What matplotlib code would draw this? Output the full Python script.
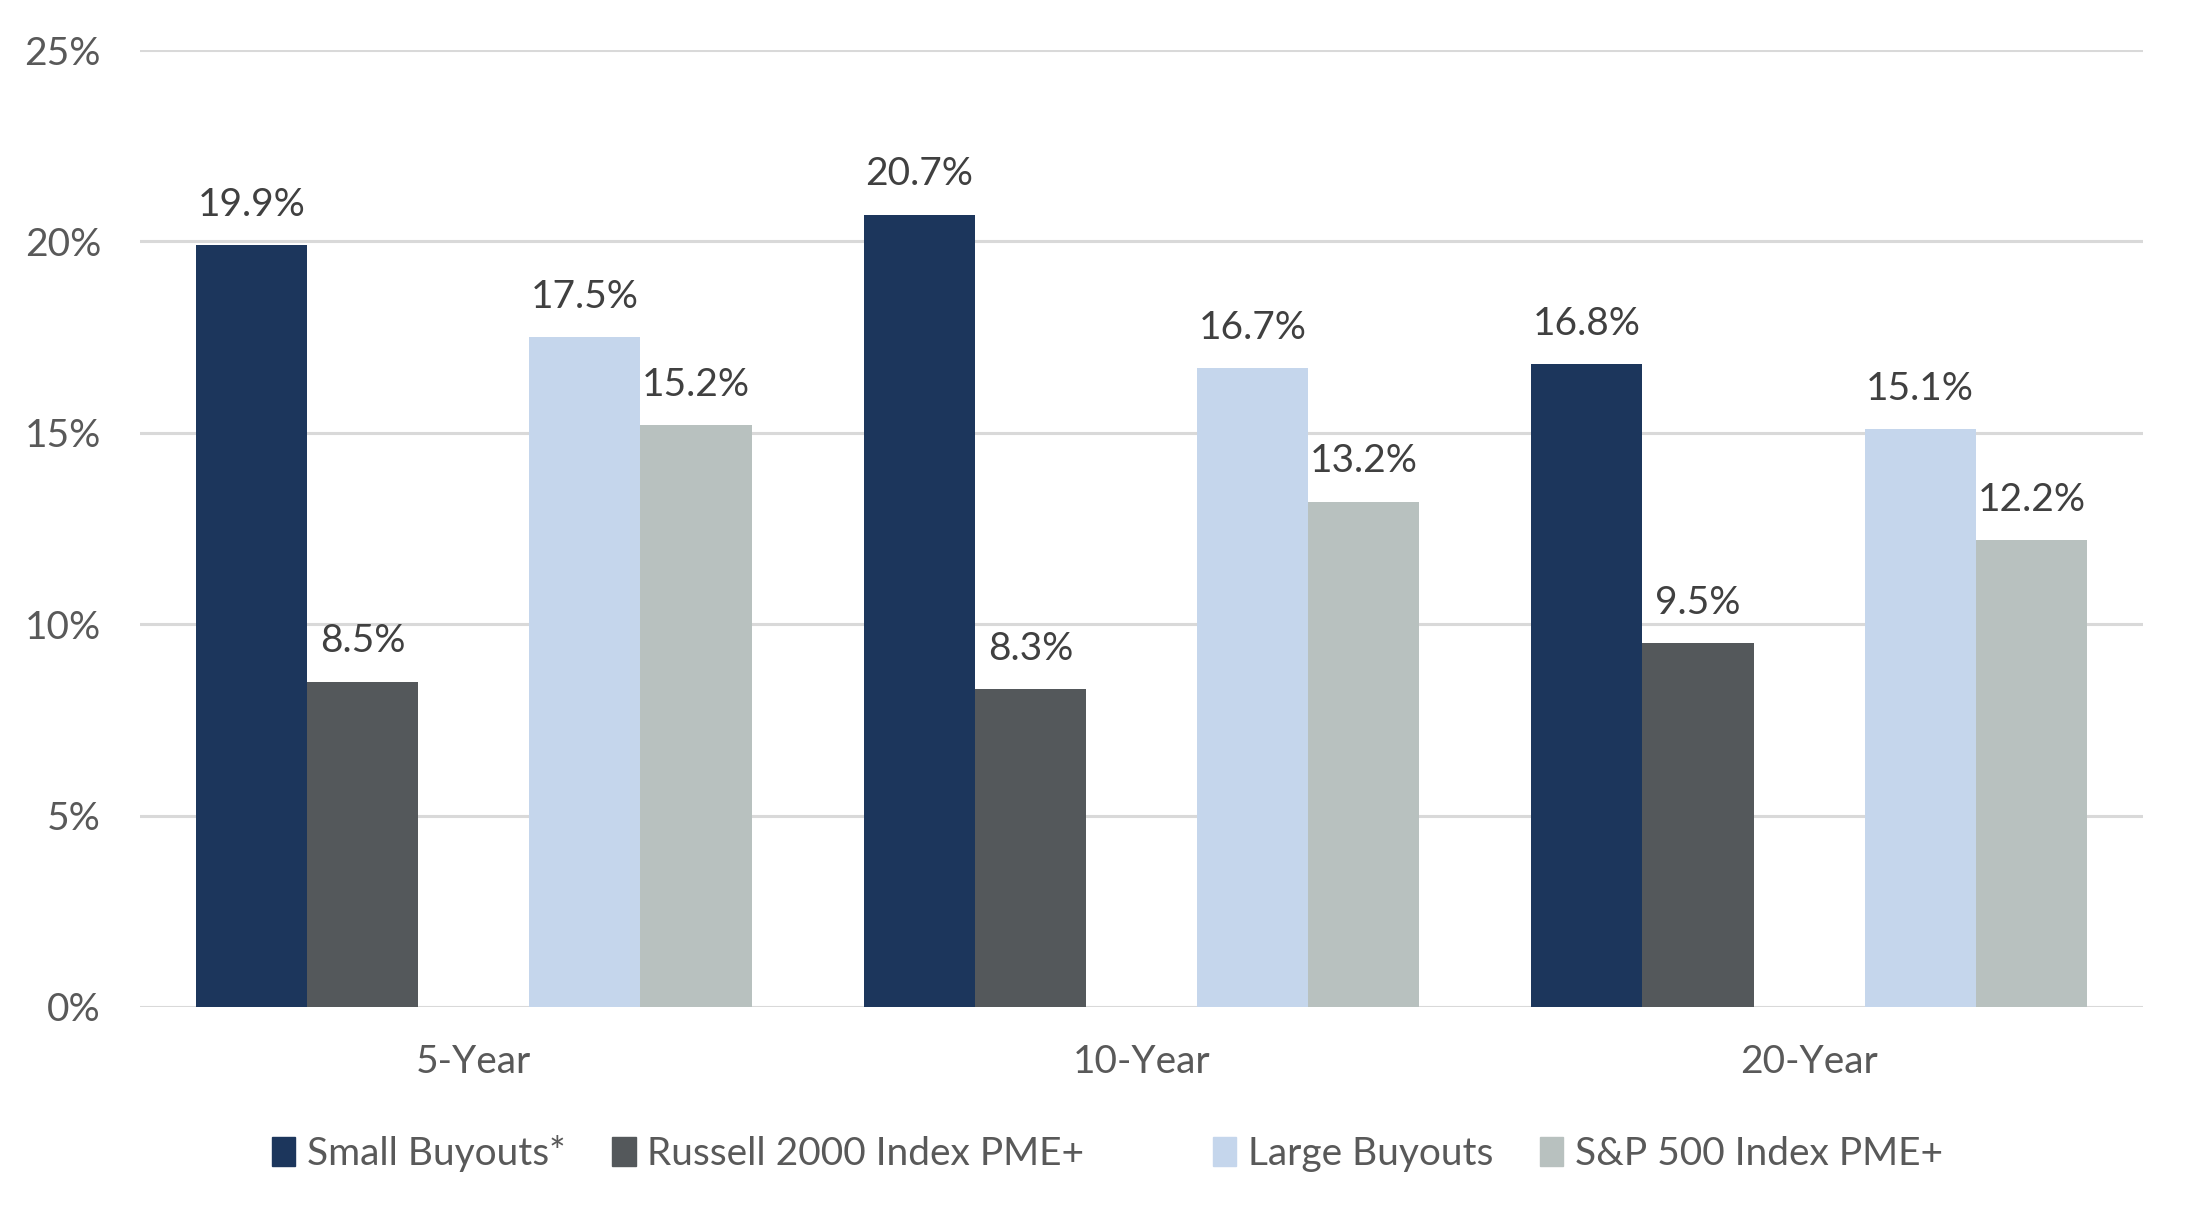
import matplotlib
matplotlib.use("Agg")
import matplotlib.pyplot as plt
from matplotlib.patches import Patch
import numpy as np

plt.rcParams['font.family'] = ['Lato', 'DejaVu Sans']

categories = ["5-Year", "10-Year", "20-Year"]
series_names = ["Small Buyouts*", "Russell 2000 Index PME+", "Large Buyouts", "S&P 500 Index PME+"]
small_buyouts = [19.9, 20.7, 16.8]
russell_2000 = [8.5, 8.3, 9.5]
large_buyouts = [17.5, 16.7, 15.1]
sp500 = [15.2, 13.2, 12.2]
yticks = [0, 5, 10, 15, 20, 25]
ytick_labels = ["0%", "5%", "10%", "15%", "20%", "25%"]

colors = ["#1c365c", "#54585b", "#c5d6ec", "#b8c1bf"]
series = [small_buyouts, russell_2000, large_buyouts, sp500]
slots = [-2, -1, 1, 2]  # middle slot left empty

fig = plt.figure(figsize=(21.93, 12.2), dpi=100)
ax = fig.add_axes([0.0638, 0.1746, 0.9134, 0.7844])

x = np.arange(len(categories))
bw = 0.1664
label_color = "#404040"
tick_color = "#595959"
for vals, col, s, name in zip(series, colors, slots, series_names):
    bars = ax.bar(x + s * bw, vals, width=bw, color=col, label=name, zorder=3)
    for b, v in zip(bars, vals):
        ax.annotate(f"{v:.1f}%", (b.get_x() + b.get_width() / 2, v),
                    xytext=(0, 16), textcoords="offset points",
                    ha="center", va="bottom", fontsize=28, color=label_color)

ax.set_xlim(-0.5, 2.5)
ax.set_ylim(0, 25)
ax.set_yticks(yticks)
ax.set_yticklabels(ytick_labels)
ax.set_xticks(x)
ax.set_xticklabels(categories)
ax.tick_params(axis="y", length=0, pad=28, labelsize=28, labelcolor=tick_color)
ax.tick_params(axis="x", length=0, pad=27, labelsize=28, labelcolor=tick_color)
ax.grid(axis="y", color="#d9d9d9", linewidth=2.2, zorder=0)
for sp in ax.spines.values():
    sp.set_visible(False)

handles = [Patch(color=colors[0]), Patch(color=colors[1]),
           Patch(color="none"), Patch(color=colors[2]), Patch(color=colors[3])]
labels = [series_names[0], series_names[1], "", series_names[2], series_names[3]]
leg = fig.legend(handles, labels, loc="center", bbox_to_anchor=(0.505, 0.0545), ncol=5,
                 frameon=False, fontsize=28, handlelength=0.6, handleheight=0.75,
                 handletextpad=0.3, columnspacing=1.2, labelcolor=tick_color)

fig.savefig("out.png", dpi=100, facecolor="white")
